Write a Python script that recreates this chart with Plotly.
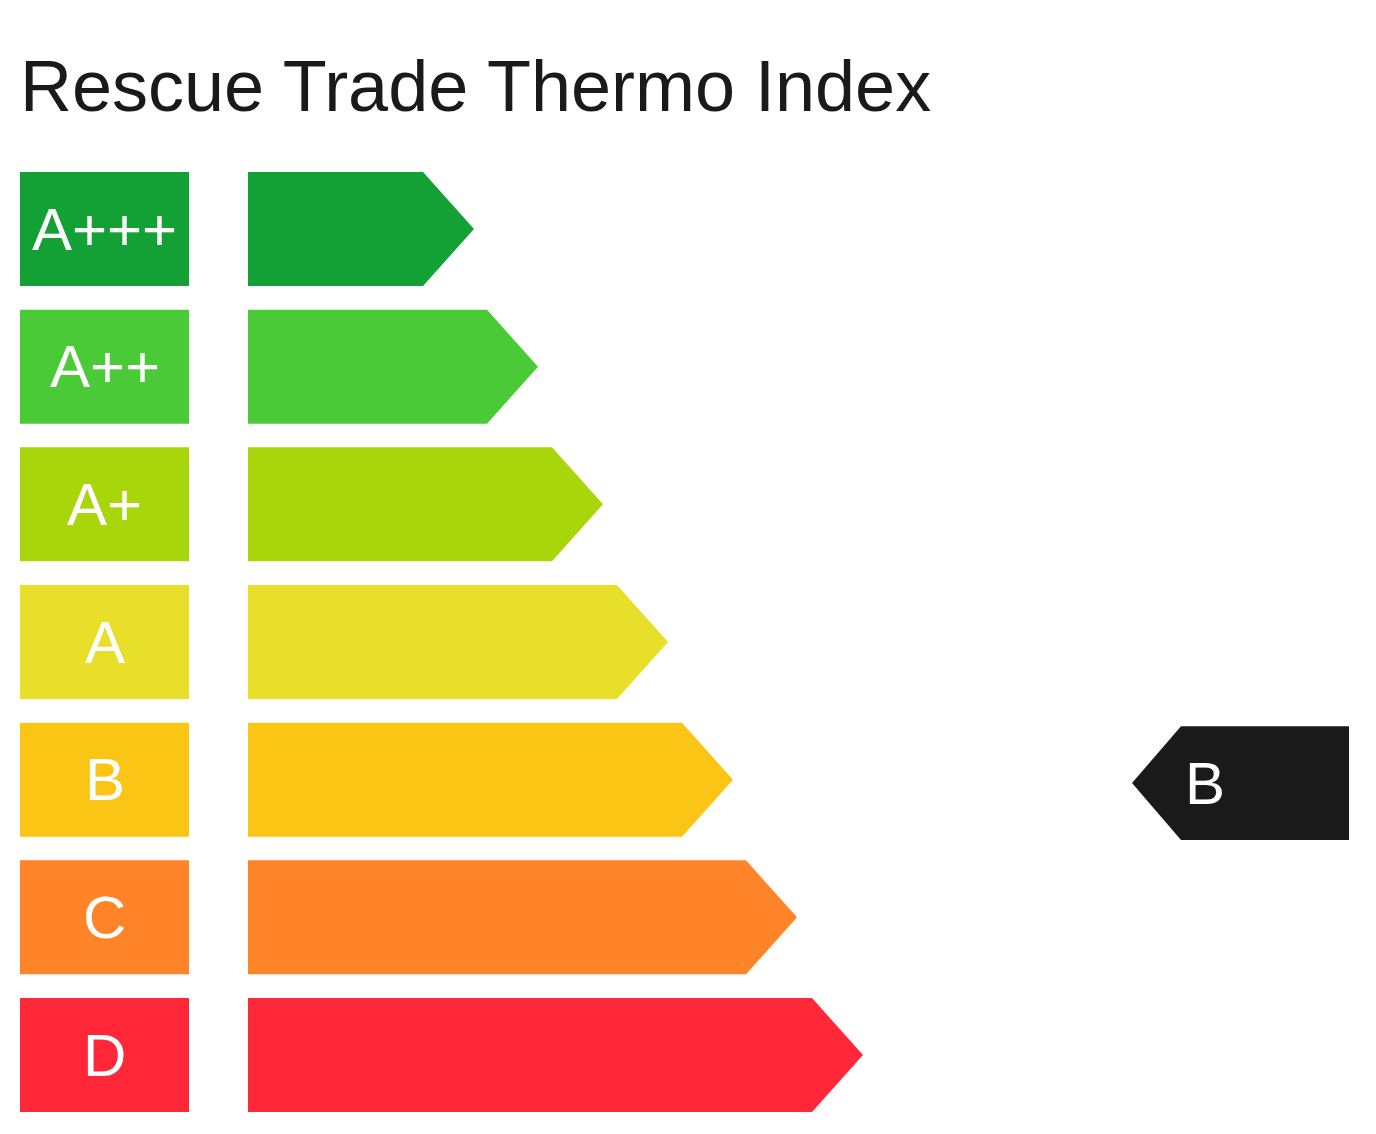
import plotly.graph_objects as go

# ---- data ----
categories = ["A+++", "A++", "A+", "A", "B", "C", "D"]
bar_lengths = [175, 239, 304, 369, 434, 498, 564]
colors = ["#13a035", "#4aca36", "#a8d60a", "#e8df2b", "#fbc515", "#ff8327", "#ff2738"]
rating = "B"
title_text = "Rescue Trade Thermo Index"

# ---- geometry / style ----
W, H = 1376, 1134
PAGE_OFF = 8               # page body margin offset
X0_PIX = 248 - PAGE_OFF    # x-pixel where arrows start (x=0)
ROW0_PIX = 229 - PAGE_OFF  # pixel of first row centre
ROW_PITCH = 137.67         # pixels between rows
HALF = 0.414               # half bar height, in row units
TIP = 51                   # arrow tip length (x units)
BOX_X0, BOX_X1 = 20 - 248, 189 - 248
MARK_TIP, MARK_BODY, MARK_END = 1132 - 248, 1181 - 248, 1349 - 248
MARK_DY = 0.025
FONT = "Liberation Sans, Arial, sans-serif"

fig = go.Figure()

for i, (cat, val, col) in enumerate(zip(categories, bar_lengths, colors)):
    # label box
    fig.add_trace(go.Scatter(
        x=[BOX_X0, BOX_X1, BOX_X1, BOX_X0, BOX_X0],
        y=[i - HALF, i - HALF, i + HALF, i + HALF, i - HALF],
        fill="toself", fillcolor=col, mode="lines", line=dict(width=0, color=col),
        hoverinfo="skip", showlegend=False))
    fig.add_annotation(x=(BOX_X0 + BOX_X1) / 2, y=i, text=cat, showarrow=False,
                       xanchor="center", yanchor="middle",
                       font=dict(family=FONT, size=60, color="white"))
    # arrow bar
    fig.add_trace(go.Scatter(
        x=[0, val, val + TIP, val, 0, 0],
        y=[i - HALF, i - HALF, i, i + HALF, i + HALF, i - HALF],
        fill="toself", fillcolor=col, mode="lines", line=dict(width=0, color=col),
        hoverinfo="skip", showlegend=False))

# rating marker
ri = categories.index(rating) + MARK_DY
fig.add_trace(go.Scatter(
    x=[MARK_TIP, MARK_BODY, MARK_END, MARK_END, MARK_BODY, MARK_TIP],
    y=[ri, ri - HALF, ri - HALF, ri + HALF, ri + HALF, ri],
    fill="toself", fillcolor="#1a1a1a", mode="lines", line=dict(width=0, color="#1a1a1a"),
    hoverinfo="skip", showlegend=False))
fig.add_annotation(x=MARK_BODY + 2, y=ri, text=rating, showarrow=False,
                   xanchor="left", yanchor="middle",
                   font=dict(family=FONT, size=60, color="white"))

y_top = -ROW0_PIX / ROW_PITCH
y_bot = (H - ROW0_PIX) / ROW_PITCH

fig.update_layout(
    width=W, height=H,
    margin=dict(l=0, r=0, t=0, b=0),
    paper_bgcolor="white", plot_bgcolor="white",
    title=dict(text=title_text, x=(20 - PAGE_OFF) / W, xanchor="left", xref="paper",
               y=1 - (86 - PAGE_OFF) / H, yref="container", yanchor="middle",
               font=dict(family=FONT, size=72, color="#1a1a1a")),
    xaxis=dict(range=[-X0_PIX, W - X0_PIX], visible=False, fixedrange=True),
    yaxis=dict(range=[y_bot, y_top], visible=False, fixedrange=True),
    showlegend=False,
)

fig.write_html("out.html")
